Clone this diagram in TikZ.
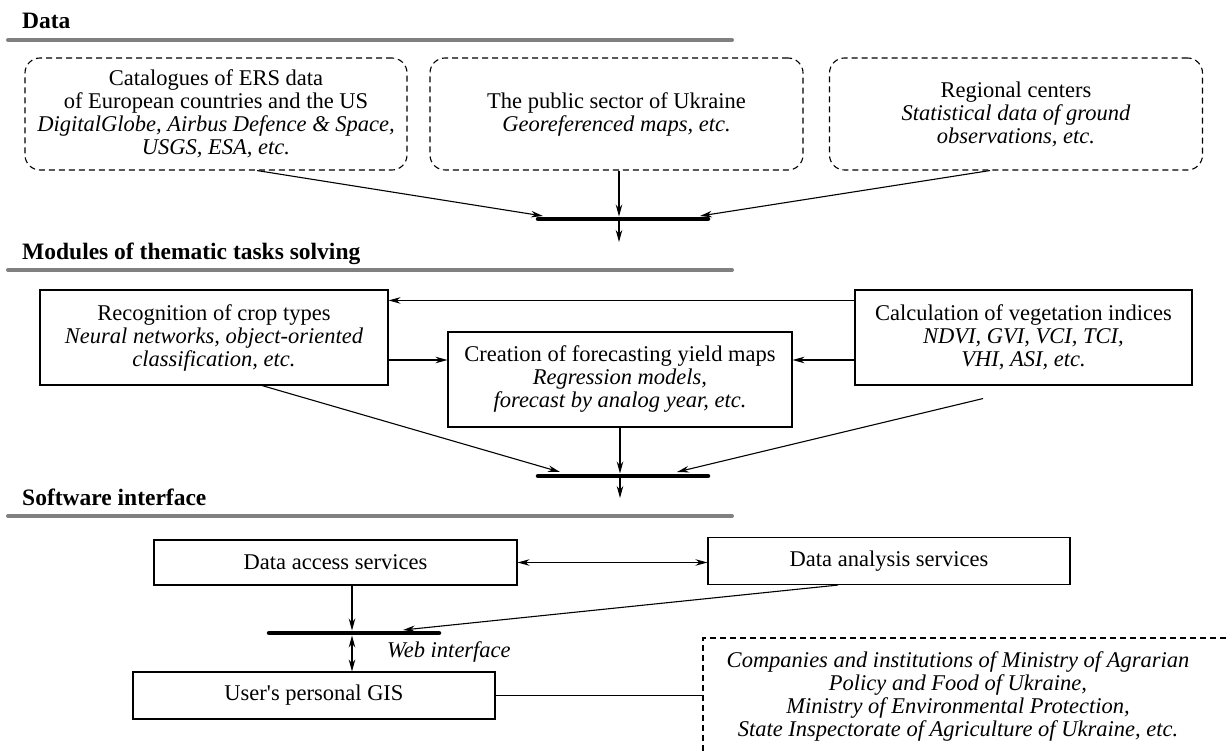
\documentclass[tikz,border=0pt]{standalone}
\usepackage{fontspec}
\setmainfont{Liberation Serif}
\usetikzlibrary{arrows.meta,calc}
\newcommand\myfs{\fontsize{22.5}{23}\selectfont}
\newcommand\myhfs{\fontsize{23.5}{25}\selectfont}
\tikzset{
  box/.style={draw, line width=1.1pt, inner sep=0pt, align=center, font=\myfs},
  dbox/.style={box, dash pattern=on 6pt off 4pt, rounded corners=15pt},
  arr/.style={-{Stealth[length=12pt,width=6.5pt]}, line width=1.1pt},
  darr/.style={{Stealth[length=12pt,width=6.5pt]}-{Stealth[length=12pt,width=6.5pt]}, line width=1.1pt},
  plain/.style={line width=1.1pt},
  barline/.style={line width=4.5pt, line cap=round},
  hline/.style={line width=4pt, draw=black!50, line cap=round},
  hdr/.style={font=\myhfs\bfseries, anchor=base west, inner sep=0pt},
  dline/.style={line width=1.1pt, dash pattern=on 6pt off 4pt}
}
\begin{document}
\begin{tikzpicture}[x=1pt,y=-1pt]
\useasboundingbox (0,0) rectangle (1226,751);

% headers
\node[hdr] (h1) at (22,29) {Data};
\node[hdr] (h2) at (22,260) {Modules of thematic tasks solving};
\node[hdr] (h3) at (22,505) {Software interface};
\draw[hline] (8,40) -- (732,40);
\draw[hline] (8,270) -- (732,270);
\draw[hline] (8,516) -- (732,516);

% data sources
\node[dbox, minimum width=382pt, minimum height=112pt] (cat) at (216,114)
  {Catalogues of ERS data\\of European countries and the US\\\textit{DigitalGlobe, Airbus Defence \& Space,}\\\textit{USGS, ESA, etc.}};
\node[dbox, minimum width=373pt, minimum height=112pt] (pub) at (616.5,114)
  {The public sector of Ukraine\\\textit{Georeferenced maps, etc.}};
\node[dbox, minimum width=373pt, minimum height=112pt] (reg) at (1016,114)
  {Regional centers\\\textit{Statistical data of ground}\\\textit{observations, etc.}};

\coordinate (b1l) at (538,219);
\coordinate (b1r) at (708,219);
\coordinate (b1c) at (619,219);
\coordinate (c1) at (619,242);
\draw[barline] (b1l) -- (b1r);
\draw[arr] ([xshift=41pt]cat.south) -- ([xshift=5pt,yshift=3pt]b1l);
\draw[arr] (pub.south -| b1c) -- ([yshift=2.5pt]b1c);
\draw[arr] (b1c) -- (c1);
\draw[arr] ([xshift=-26pt]reg.south) -- ([xshift=-8pt,yshift=3pt]b1r);

% modules
\node[box, minimum width=348pt, minimum height=95pt] (rec) at (214,337.5)
  {Recognition of crop types\\\textit{Neural networks, object-oriented}\\\textit{classification, etc.}};
\node[box, minimum width=344pt, minimum height=95pt] (cre) at (620,379.5)
  {Creation of forecasting yield maps\\\textit{Regression models,}\\\textit{forecast by analog year, etc.}};
\node[box, minimum width=337pt, minimum height=95pt] (veg) at (1023.5,337.5)
  {Calculation of vegetation indices\\\textit{NDVI, GVI, VCI, TCI,}\\\textit{VHI, ASI, etc.}};

\draw[arr] ([yshift=-11pt]veg.north west) -- ([yshift=-11pt]veg.north west -| rec.east);
\draw[arr] ([yshift=-22.5pt]rec.east) -- ([yshift=-22.5pt]rec.east -| cre.west);
\draw[arr] ([yshift=-22.5pt]veg.west) -- ([yshift=-22.5pt]veg.west -| cre.east);

\coordinate (b2l) at (538,476);
\coordinate (b2r) at (708,476);
\coordinate (b2c) at (620,476);
\coordinate (c2) at (620,498);
\coordinate (vs) at ([xshift=-40.5pt,yshift=-13pt]veg.south);
\draw[barline] (b2l) -- (b2r);
\draw[arr] ([xshift=48pt]rec.south) -- ([xshift=22pt,yshift=4pt]b2l);
\draw[arr] (cre.south) -- ([yshift=2.5pt]b2c);
\draw[arr] (b2c) -- (c2);
\draw[arr] (vs) -- ([xshift=-31pt,yshift=4pt]b2r);

% software interface
\node[box, minimum width=363pt, minimum height=45pt] (acc) at (335.5,562.5) {Data access services};
\node[box, minimum width=362pt, minimum height=47pt] (ana) at (889,561) {Data analysis services};
\draw[darr] (acc.east) -- (acc.east -| ana.west);

\coordinate (b3l) at (269,633);
\coordinate (b3r) at (439,633);
\coordinate (b3c) at (352,633);
\draw[barline] (b3l) -- (b3r);
\draw[arr] (acc.south -| b3c) -- ([yshift=2.5pt]b3c);
\draw[arr] ([xshift=-51pt]ana.south) -- ([xshift=-36pt,yshift=3pt]b3r);

\node[box, minimum width=362pt, minimum height=47pt] (gis) at (314,695.5) {User\textquotesingle s personal GIS};
\draw[darr] ([yshift=-2.5pt]b3c) -- (gis.north -| b3c);
\node[font=\myfs\itshape, anchor=west, inner sep=0pt] (web) at (387,652) {Web interface};

\coordinate (dtl) at (703,638);
\coordinate (dbl) at (703,751);
\coordinate (dtr) at (1226,638);
\draw[dline] (dbl) -- (dtl) -- (dtr);
\node[font=\myfs\itshape, align=center, inner sep=0pt] (min) at (958,696)
  {Companies and institutions of Ministry of Agrarian\\Policy and Food of Ukraine,\\Ministry of Environmental Protection,\\State Inspectorate of Agriculture of Ukraine, etc.};
\draw[plain] (gis.east) -- (gis.east -| dtl);
\end{tikzpicture}
\end{document}
